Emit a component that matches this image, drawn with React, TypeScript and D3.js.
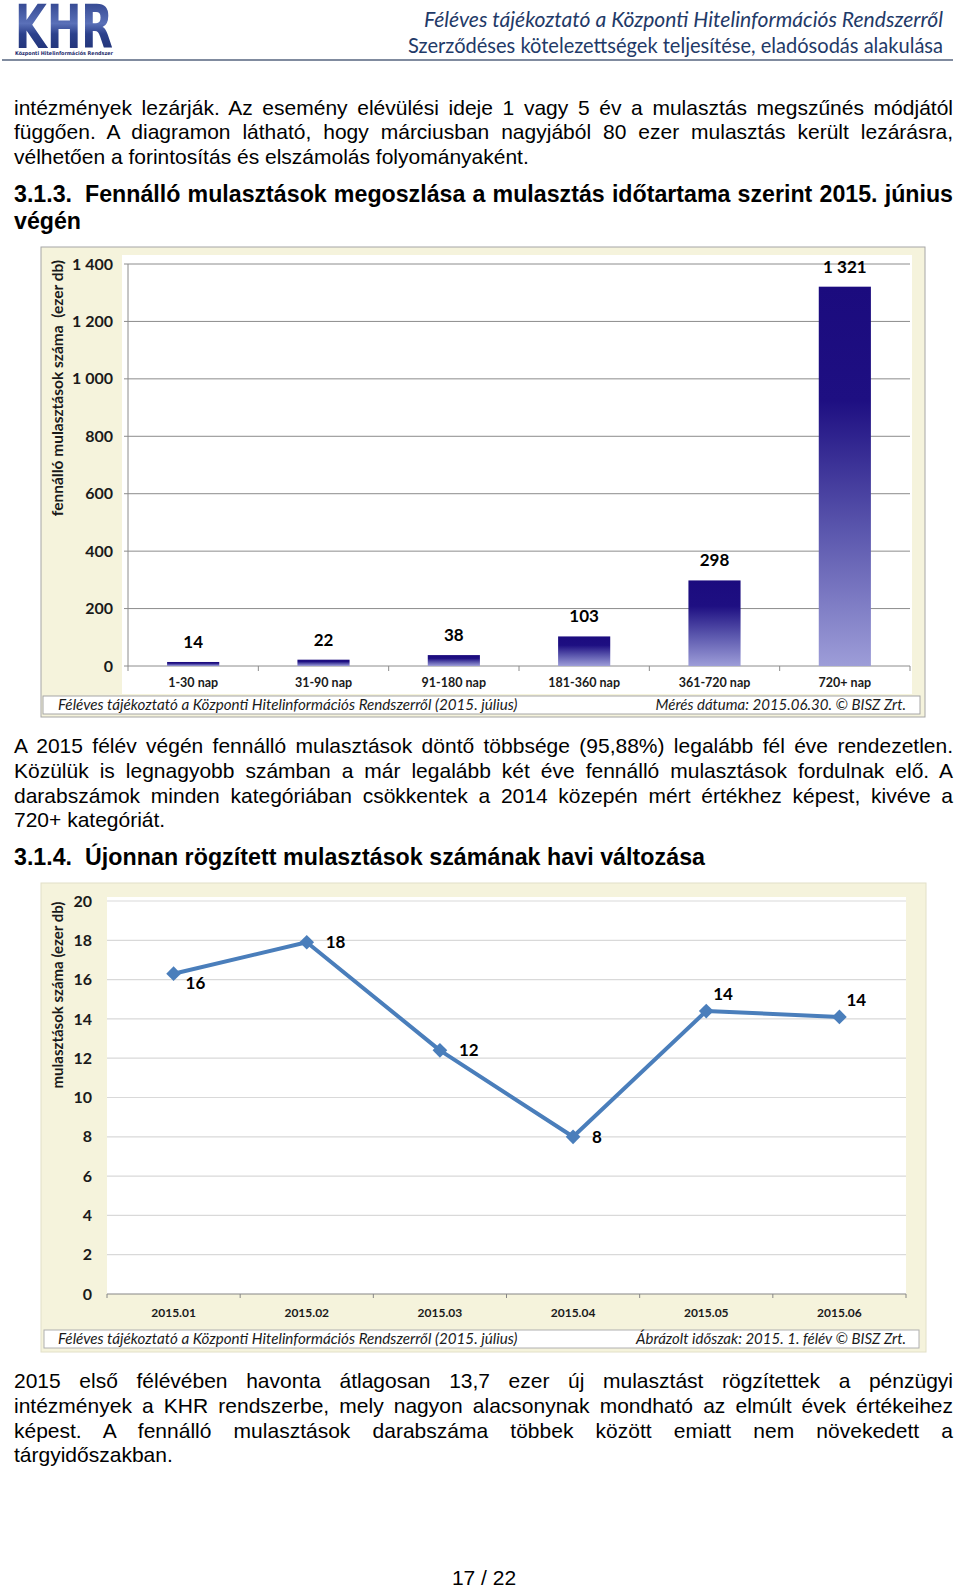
import React, { useEffect, useRef } from 'react';
import * as d3 from 'd3';

// ---------- DATA ----------
const durationCategories = ['1-30 nap', '31-90 nap', '91-180 nap', '181-360 nap', '361-720 nap', '720+ nap'];
const durationValues = [14, 22, 38, 103, 298, 1321];
const durationTicks = [0, 200, 400, 600, 800, 1000, 1200, 1400];

const monthCategories = ['2015.01', '2015.02', '2015.03', '2015.04', '2015.05', '2015.06'];
const monthlyValues = [16.3, 17.9, 12.4, 8.0, 14.4, 14.1];
const monthlyTicks = [0, 2, 4, 6, 8, 10, 12, 14, 16, 18, 20];
const monthlyLabelPlacement = ['below', 'right', 'right', 'right', 'above', 'above'];

const headerLines = [
  'Féléves tájékoztató a Központi Hitelinformációs Rendszerről',
  'Szerződéses kötelezettségek teljesítése, eladósodás alakulása',
];
const para1Lines = [
  'intézmények lezárják. Az esemény elévülési ideje 1 vagy 5 év a mulasztás megszűnés módjától',
  'függően. A diagramon látható, hogy márciusban nagyjából 80 ezer mulasztás került lezárásra,',
  'vélhetően a forintosítás és elszámolás folyományaként.',
];
const heading1 = ['3.1.3.', 'Fennálló mulasztások megoszlása a mulasztás időtartama szerint 2015. június', 'végén'];
const para2Lines = [
  'A 2015 félév végén fennálló mulasztások döntő többsége (95,88%) legalább fél éve rendezetlen.',
  'Közülük is legnagyobb számban a már legalább két éve fennálló mulasztások fordulnak elő. A',
  'darabszámok minden kategóriában csökkentek a 2014 közepén mért értékhez képest, kivéve a',
  '720+ kategóriát.',
];
const heading2 = ['3.1.4.', 'Újonnan rögzített mulasztások számának havi változása'];
const para3Lines = [
  '2015 első félévében havonta átlagosan 13,7 ezer új mulasztást rögzítettek a pénzügyi',
  'intézmények a KHR rendszerbe, mely nagyon alacsonynak mondható az elmúlt évek értékeihez',
  'képest. A fennálló mulasztások darabszáma többek között emiatt nem növekedett a',
  'tárgyidőszakban.',
];
const chart1Title = 'fennálló mulasztások száma  (ezer db)';
const chart2Title = 'mulasztások száma (ezer db)';
const sourceLeft = 'Féléves tájékoztató a Központi Hitelinformációs Rendszerről (2015. július)';
const source1Right = 'Mérés dátuma: 2015.06.30. © BISZ Zrt.';
const source2Right = 'Ábrázolt időszak: 2015. 1. félév © BISZ Zrt.';
const pageNumber = '17 / 22';

// ---------- STYLE ----------
const BODY = '"Liberation Sans", Arial, sans-serif';
const CH = 'Lato, "Open Sans", sans-serif';
const CREAM = '#f5f3dc';
const LEFT = 14;
const RIGHT = 953;

const huLocale = d3.formatLocale({ decimal: ',', thousands: '\u00a0', grouping: [3], currency: ['', ''] });
const fmtThousands = huLocale.format(',');
const fmtInt = d3.format('.0f');

function Paragraph({ lines, y0, lh }: { lines: string[]; y0: number; lh: number }) {
  return (
    <g fontFamily={BODY} fontSize={21} fill="#000">
      {lines.map((l, i) => (
        <text
          key={i}
          x={LEFT}
          y={y0 + i * lh}
          className={i < lines.length - 1 ? 'justify' : undefined}
          data-w={RIGHT - LEFT}
        >
          {l}
        </text>
      ))}
    </g>
  );
}

function BarChart() {
  const x = d3.scaleBand<string>().domain(durationCategories).range([128, 910]).paddingInner(0.6).paddingOuter(0.3);
  const y = d3.scaleLinear().domain([0, 1400]).range([666, 264]);
  const step = x.step();
  const bounds = d3.range(durationCategories.length + 1).map((i) => 128 + i * step);
  return (
    <g>
      <defs>
        <linearGradient id="barGrad" x1="0" y1="0" x2="0" y2="1">
          <stop offset="0" stopColor="#1b0b7e" />
          <stop offset="0.3" stopColor="#1e0f82" />
          <stop offset="0.65" stopColor="#5c58ae" />
          <stop offset="1" stopColor="#9d9dd8" />
        </linearGradient>
      </defs>
      <rect x={41} y={247} width={884} height={470} fill={CREAM} stroke="#a6a6a6" strokeWidth={1} />
      <rect x={122} y={255} width={790} height={439} fill="#fff" />
      {durationTicks.map((t) => (
        <g key={t}>
          <line x1={124} x2={910} y1={y(t)} y2={y(t)} stroke="#8c8c8c" strokeWidth={1} />
          <text x={113} y={y(t)} dy="0.35em" textAnchor="end" fontFamily={CH} fontWeight={700} fontSize={16} fill="#1a1a1a">
            {fmtThousands(t)}
          </text>
        </g>
      ))}
      <line x1={128} x2={128} y1={264} y2={666} stroke="#8c8c8c" />
      {bounds.map((b, i) => (
        <line key={i} x1={b} x2={b} y1={666} y2={671} stroke="#8c8c8c" />
      ))}
      {durationCategories.map((c, i) => {
        const v = durationValues[i];
        return (
          <g key={c}>
            <rect x={x(c)} y={y(v)} width={x.bandwidth()} height={y(0) - y(v)} fill="url(#barGrad)" />
            <text x={x(c)! + x.bandwidth() / 2} y={y(v) - 14} textAnchor="middle" fontFamily={CH} fontWeight={700} fontSize={17} fill="#000">
              {fmtThousands(v)}
            </text>
            <text x={x(c)! + x.bandwidth() / 2} y={687} textAnchor="middle" fontFamily={CH} fontWeight={700} fontSize={12.5} fill="#1a1a1a">
              {c}
            </text>
          </g>
        );
      })}
      <text transform="translate(58,388) rotate(-90)" dy="0.35em" textAnchor="middle" fontFamily={CH} fontWeight={700} fontSize={15.5} fill="#1a1a1a" style={{ whiteSpace: 'pre' }}>
        {chart1Title}
      </text>
      <rect x={43} y={696} width={877} height={18} fill="#fff" stroke="#a6a6a6" />
      <text x={58} y={710} fontFamily={CH} fontStyle="italic" fontSize={15.2} fill="#1a1a1a">{sourceLeft}</text>
      <text x={906} y={710} textAnchor="end" fontFamily={CH} fontStyle="italic" fontSize={15} fill="#1a1a1a">{source1Right}</text>
    </g>
  );
}

function LineChart() {
  const x = d3.scalePoint<string>().domain(monthCategories).range([107, 906]).padding(0.5);
  const y = d3.scaleLinear().domain([0, 20]).range([1294, 901]);
  const step = x.step();
  const bounds = d3.range(monthCategories.length + 1).map((i) => 107 + i * step);
  const line = d3
    .line<number>()
    .x((_, i) => x(monthCategories[i])!)
    .y((d) => y(d));
  return (
    <g>
      <rect x={41} y={883} width={885} height={469} fill={CREAM} stroke="#e2e0c8" />
      <rect x={107} y={897} width={799} height={397} fill="#fff" />
      {monthlyTicks.map((t) => (
        <g key={t}>
          {t > 0 && <line x1={107} x2={906} y1={y(t)} y2={y(t)} stroke="#d9d9d9" strokeWidth={1.2} />}
          <text x={92} y={y(t)} dy="0.35em" textAnchor="end" fontFamily={CH} fontWeight={700} fontSize={16} fill="#1a1a1a">
            {t}
          </text>
        </g>
      ))}
      <line x1={107} x2={906} y1={y(0)} y2={y(0)} stroke="#868686" strokeWidth={1.2} />
      {bounds.map((b, i) => (
        <line key={i} x1={b} x2={b} y1={1294} y2={1298} stroke="#868686" />
      ))}
      {monthCategories.map((m) => (
        <text key={m} x={x(m)} y={1317} textAnchor="middle" fontFamily={CH} fontWeight={700} fontSize={12} fill="#1a1a1a">
          {m}
        </text>
      ))}
      <path d={line(monthlyValues)!} fill="none" stroke="#4a7ebb" strokeWidth={4} strokeLinejoin="round" />
      {monthlyValues.map((v, i) => {
        const px = x(monthCategories[i])!;
        const py = y(v);
        const mode = monthlyLabelPlacement[i];
        let lx = px + 19;
        let ly = py + 6;
        if (mode === 'below') {
          lx = px + 12;
          ly = py + 15;
        } else if (mode === 'above') {
          lx = px + 7;
          ly = py - 11;
        }
        return (
          <g key={i}>
            <rect x={-5.2} y={-5.2} width={10.4} height={10.4} fill="#4a7ebb" transform={`translate(${px},${py}) rotate(45)`} />
            <text x={lx} y={ly} fontFamily={CH} fontWeight={700} fontSize={17} fill="#000">
              {fmtInt(v)}
            </text>
          </g>
        );
      })}
      <text transform="translate(58,995) rotate(-90)" dy="0.35em" textAnchor="middle" fontFamily={CH} fontWeight={700} fontSize={15} fill="#1a1a1a">
        {chart2Title}
      </text>
      <rect x={44} y={1330} width={875} height={18} fill="#fff" stroke="#b0b0b0" />
      <text x={58} y={1344} fontFamily={CH} fontStyle="italic" fontSize={15.2} fill="#1a1a1a">{sourceLeft}</text>
      <text x={906} y={1344} textAnchor="end" fontFamily={CH} fontStyle="italic" fontSize={15} fill="#1a1a1a">{source2Right}</text>
    </g>
  );
}

export default function App() {
  const ref = useRef<SVGSVGElement>(null);
  useEffect(() => {
    const run = () => {
      if (!ref.current) return;
      d3.select(ref.current)
        .selectAll<SVGTextElement, unknown>('text.justify')
        .each(function () {
          this.style.wordSpacing = '0px';
          const target = +(this.getAttribute('data-w') || 0);
          const nat = this.getComputedTextLength();
          const n = ((this.textContent || '').match(/ /g) || []).length;
          if (n > 0 && target > nat) this.style.wordSpacing = `${(target - nat) / n}px`;
        });
    };
    run();
    if ((document as any).fonts && (document as any).fonts.ready) (document as any).fonts.ready.then(run);
  }, []);

  return (
    <svg
      ref={ref}
      width={960}
      height={1589}
      viewBox="0 0 960 1589"
      style={{ position: 'absolute', left: 0, top: 0, display: 'block', background: '#fff' }}
    >
      <defs>
        <linearGradient id="logoGrad" x1="0" y1="0" x2="0" y2="1">
          <stop offset="0" stopColor="#22357f" />
          <stop offset="0.45" stopColor="#5a70b8" />
          <stop offset="0.6" stopColor="#2c418c" />
          <stop offset="1" stopColor="#1b2a6b" />
        </linearGradient>
      </defs>
      {/* Header */}
      <text x={15} y={48} fontFamily='"DejaVu Sans", sans-serif' fontWeight={700} fontSize={60} fill="url(#logoGrad)" textLength={98} lengthAdjust="spacingAndGlyphs">
        KHR
      </text>
      <text x={15} y={55} fontFamily='"DejaVu Sans", sans-serif' fontWeight={700} fontSize={5.2} fill="#1b2a6b" textLength={98} lengthAdjust="spacingAndGlyphs">
        Központi Hitelinformációs Rendszer
      </text>
      <text x={943} y={27} textAnchor="end" fontFamily={CH} fontStyle="italic" fontSize={21} fill="#1f3a68" textLength={519} lengthAdjust="spacingAndGlyphs">
        {headerLines[0]}
      </text>
      <text x={943} y={53} textAnchor="end" fontFamily={CH} fontSize={21} fill="#1f3a68" textLength={535} lengthAdjust="spacingAndGlyphs">
        {headerLines[1]}
      </text>
      <line x1={2} x2={953} y1={60} y2={60} stroke="#56647f" strokeWidth={1.5} />

      <Paragraph lines={para1Lines} y0={114.5} lh={24.8} />

      <g fontFamily={BODY} fontWeight={700} fontSize={23.2} fill="#000">
        <text x={LEFT} y={202}>{heading1[0]}</text>
        <text x={85} y={202} className="justify" data-w={RIGHT - 85}>{heading1[1]}</text>
        <text x={LEFT} y={229}>{heading1[2]}</text>
      </g>

      <BarChart />

      <Paragraph lines={para2Lines} y0={753} lh={24.8} />

      <g fontFamily={BODY} fontWeight={700} fontSize={23.2} fill="#000">
        <text x={LEFT} y={865}>{heading2[0]}</text>
        <text x={85} y={865} textLength={620} lengthAdjust="spacing">{heading2[1]}</text>
      </g>

      <LineChart />

      <Paragraph lines={para3Lines} y0={1388} lh={24.8} />

      <text x={484} y={1585} textAnchor="middle" fontFamily={BODY} fontSize={21} fill="#000">
        {pageNumber}
      </text>
    </svg>
  );
}
